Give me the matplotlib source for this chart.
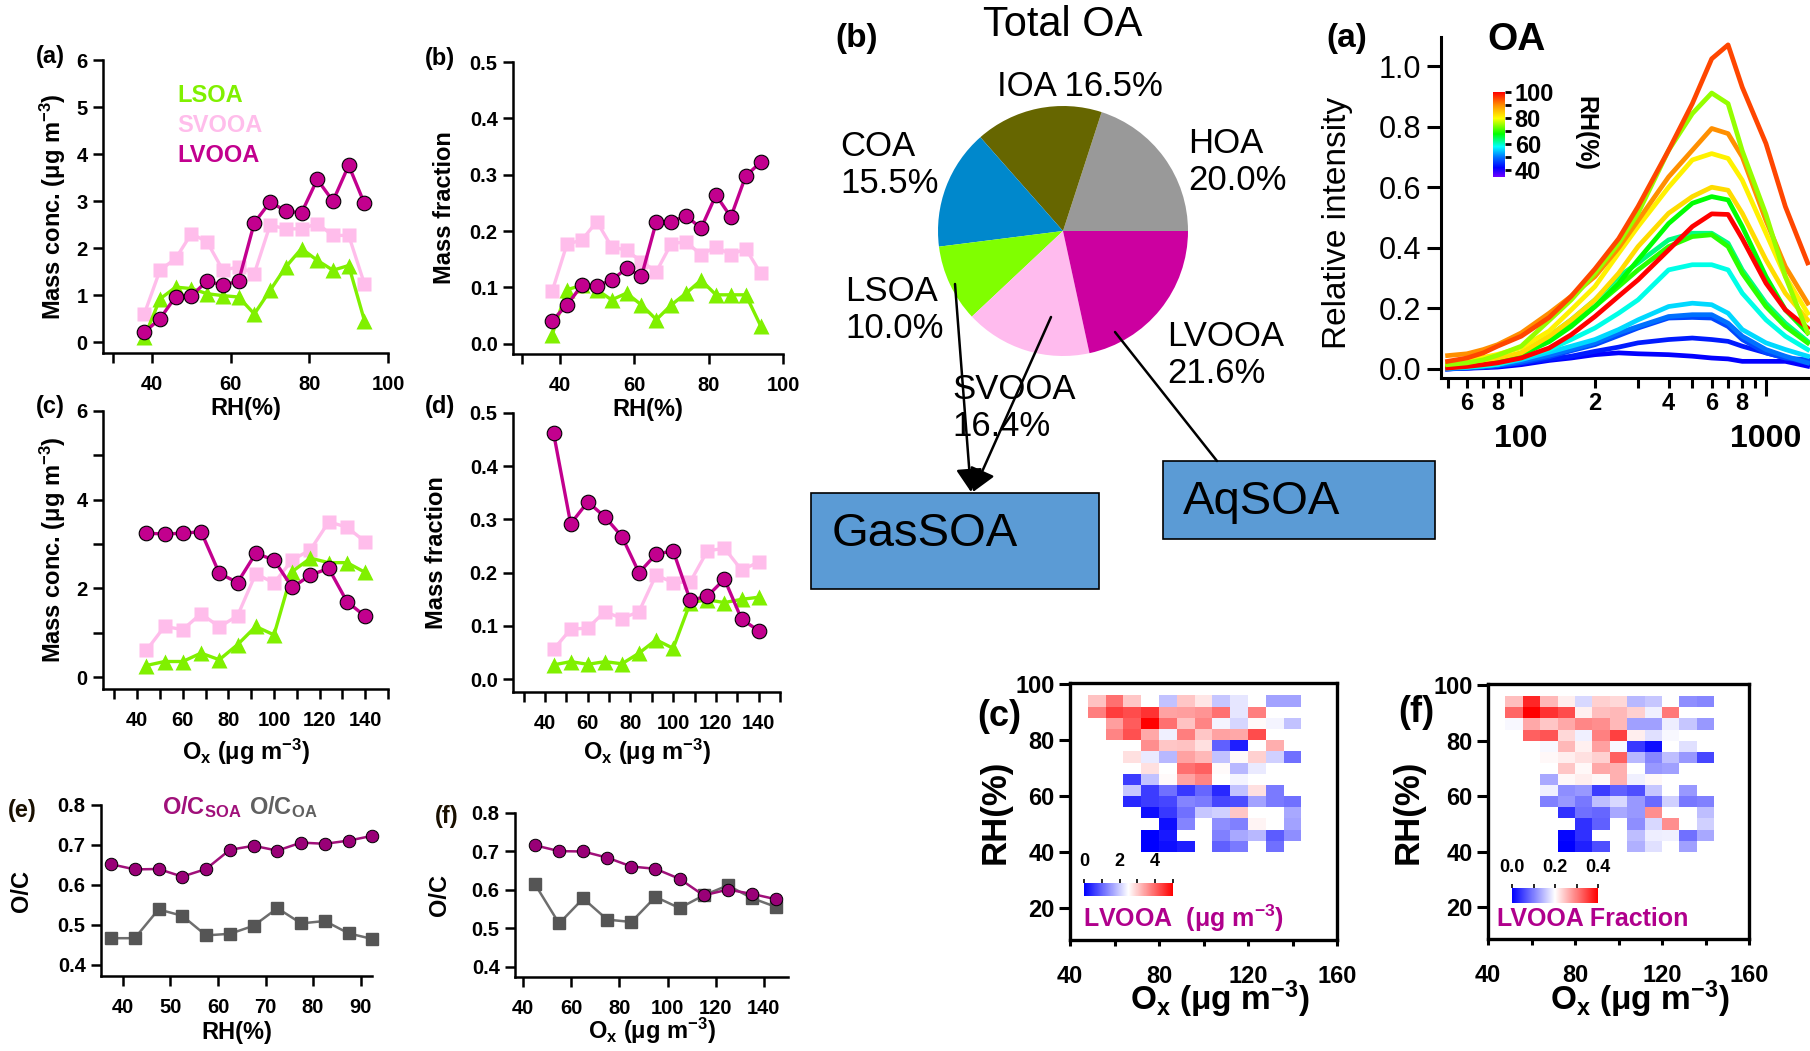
import numpy as np
import matplotlib
matplotlib.use("Agg")
import matplotlib.pyplot as plt
from matplotlib.colors import LinearSegmentedColormap, Normalize
from matplotlib.cm import ScalarMappable
from matplotlib.patches import FancyArrowPatch, Rectangle

nan = np.nan

# ---------------- data ----------------
rh_bins = [38, 42, 46, 50, 54, 58, 62, 66, 70, 74, 78, 82, 86, 90, 94]
lvooa_rh = [0.21, 0.50, 0.97, 0.99, 1.30, 1.21, 1.30, 2.54, 2.98, 2.79, 2.75, 3.46, 3.00, 3.76, 2.95]
svooa_rh = [0.60, 1.53, 1.78, 2.31, 2.13, 1.53, 1.60, 1.46, 2.49, 2.41, 2.41, 2.52, 2.27, 2.27, 1.24]
lsoa_rh = [0.10, 0.92, 1.17, 1.14, 1.03, 0.99, 0.96, 0.60, 1.10, 1.60, 1.99, 1.74, 1.53, 1.63, 0.46]

lvooa_frac_rh = [0.041, 0.069, 0.104, 0.103, 0.113, 0.134, 0.120, 0.217, 0.217, 0.227, 0.205, 0.264, 0.225, 0.298, 0.322]
svooa_frac_rh = [0.093, 0.177, 0.184, 0.217, 0.172, 0.166, 0.146, 0.128, 0.178, 0.181, 0.158, 0.172, 0.158, 0.169, 0.125]
lsoa_frac_rh = [0.016, 0.096, 0.104, 0.096, 0.078, 0.090, 0.069, 0.043, 0.069, 0.090, 0.113, 0.087, 0.087, 0.087, 0.032]

ox_bins = [44, 52, 60, 68, 76, 84, 92, 100, 108, 116, 124, 132, 140]
lvooa_ox = [3.24, 3.23, 3.24, 3.28, 2.34, 2.13, 2.79, 2.64, 2.02, 2.30, 2.45, 1.70, 1.37]
svooa_ox = [0.60, 1.14, 1.07, 1.43, 1.13, 1.38, 2.33, 2.12, 2.64, 2.87, 3.50, 3.38, 3.05]
lsoa_ox = [0.26, 0.35, 0.35, 0.54, 0.39, 0.73, 1.14, 0.95, 2.38, 2.68, 2.58, 2.58, 2.36]

lvooa_frac_ox = [0.462, 0.292, 0.333, 0.305, 0.268, 0.200, 0.235, 0.241, 0.148, 0.156, 0.188, 0.113, 0.091]
svooa_frac_ox = [0.056, 0.094, 0.096, 0.127, 0.114, 0.127, 0.196, 0.181, 0.183, 0.241, 0.246, 0.205, 0.220]
lsoa_frac_ox = [0.027, 0.033, 0.028, 0.033, 0.029, 0.049, 0.074, 0.058, 0.144, 0.149, 0.144, 0.150, 0.154]

oc_rh_bins = [37.5, 42.5, 47.5, 52.5, 57.5, 62.5, 67.5, 72.5, 77.5, 82.5, 87.5, 92.5]
oc_soa_rh = [0.652, 0.639, 0.640, 0.621, 0.640, 0.688, 0.698, 0.686, 0.706, 0.703, 0.711, 0.723]
oc_oa_rh = [0.467, 0.467, 0.539, 0.523, 0.474, 0.478, 0.498, 0.542, 0.504, 0.510, 0.479, 0.465]

oc_ox_bins = [45, 55, 65, 75, 85, 95, 105, 115, 125, 135, 145]
oc_soa_ox = [0.716, 0.701, 0.700, 0.684, 0.661, 0.655, 0.629, 0.586, 0.601, 0.590, 0.576]
oc_oa_ox = [0.615, 0.513, 0.578, 0.523, 0.517, 0.582, 0.553, 0.586, 0.612, 0.579, 0.556]

pie_names = ["HOA", "IOA", "COA", "LSOA", "SVOOA", "LVOOA"]
pie_pct = [20.0, 16.5, 15.5, 10.0, 16.4, 21.6]
pie_colors = ["#999999", "#666600", "#0088CC", "#80FF00", "#FFBBEE", "#CC00A0"]

# particle size distributions (vacuum aerodynamic diameter, nm) for RH bins
dva = [50, 60, 70, 80, 100, 130, 160, 200, 250, 300, 400, 500, 600, 700, 800, 1000, 1200, 1480]
psd_rh = [42, 44, 47, 50, 56, 59, 63, 70, 68, 83, 81, 100, 90, 75, 95]
psd_curves = [
    [0.0, 0.002, 0.004, 0.006, 0.014, 0.028, 0.036, 0.047, 0.053, 0.050, 0.047, 0.042, 0.036, 0.033, 0.025, 0.025, 0.025, 0.009],
    [0.0, 0.003, 0.006, 0.010, 0.020, 0.032, 0.042, 0.058, 0.072, 0.086, 0.097, 0.102, 0.097, 0.091, 0.075, 0.053, 0.036, 0.020],
    [0.0, 0.003, 0.006, 0.010, 0.020, 0.040, 0.060, 0.080, 0.110, 0.135, 0.168, 0.170, 0.168, 0.140, 0.097, 0.053, 0.036, 0.030],
    [0.0, 0.004, 0.008, 0.012, 0.025, 0.045, 0.064, 0.086, 0.119, 0.140, 0.173, 0.179, 0.179, 0.151, 0.108, 0.064, 0.042, 0.020],
    [0.003, 0.006, 0.010, 0.015, 0.031, 0.055, 0.075, 0.097, 0.130, 0.162, 0.206, 0.217, 0.212, 0.184, 0.130, 0.086, 0.064, 0.042],
    [0.003, 0.006, 0.010, 0.015, 0.036, 0.064, 0.097, 0.135, 0.184, 0.228, 0.327, 0.344, 0.344, 0.327, 0.250, 0.162, 0.108, 0.064],
    [0.009, 0.014, 0.020, 0.030, 0.053, 0.108, 0.162, 0.228, 0.305, 0.350, 0.426, 0.448, 0.448, 0.415, 0.327, 0.217, 0.151, 0.091],
    [0.009, 0.012, 0.018, 0.025, 0.047, 0.095, 0.146, 0.206, 0.272, 0.327, 0.404, 0.437, 0.443, 0.404, 0.316, 0.206, 0.140, 0.086],
    [0.009, 0.014, 0.020, 0.028, 0.047, 0.090, 0.140, 0.206, 0.283, 0.360, 0.480, 0.547, 0.569, 0.558, 0.470, 0.305, 0.195, 0.119],
    [0.014, 0.020, 0.028, 0.036, 0.053, 0.108, 0.162, 0.228, 0.316, 0.404, 0.514, 0.569, 0.600, 0.590, 0.514, 0.360, 0.250, 0.162],
    [0.020, 0.028, 0.038, 0.048, 0.070, 0.125, 0.195, 0.272, 0.382, 0.470, 0.600, 0.690, 0.711, 0.695, 0.623, 0.448, 0.305, 0.184],
    [0.003, 0.008, 0.014, 0.020, 0.036, 0.069, 0.113, 0.173, 0.240, 0.294, 0.393, 0.470, 0.512, 0.510, 0.430, 0.283, 0.195, 0.135],
    [0.044, 0.050, 0.064, 0.080, 0.119, 0.184, 0.240, 0.305, 0.400, 0.490, 0.634, 0.722, 0.794, 0.777, 0.700, 0.490, 0.338, 0.217],
    [0.014, 0.020, 0.030, 0.045, 0.075, 0.160, 0.228, 0.316, 0.415, 0.514, 0.722, 0.843, 0.911, 0.876, 0.720, 0.510, 0.305, 0.120],
    [0.025, 0.036, 0.053, 0.075, 0.108, 0.170, 0.240, 0.330, 0.430, 0.536, 0.722, 0.876, 1.024, 1.070, 0.930, 0.744, 0.536, 0.350],
]

# LVOOA over the Ox / RH grid
grid_ox = [52, 60, 68, 76, 84, 92, 100, 108, 116, 124, 132, 140]
grid_rh = [94, 90, 86, 82, 78, 74, 70, 66, 62, 58, 54, 50, 46, 42]
lvooa_conc_grid = [
    [3.10, 3.90, 3.05, nan, 1.90, 3.05, 2.75, 1.95, 2.25, nan, 1.60, 1.60],
    [3.75, 4.40, 4.25, 4.50, 3.40, 3.45, 3.55, 3.90, 2.25, 3.75, nan, nan],
    [nan, 3.45, 4.10, 5.00, 3.90, 3.10, 3.70, 2.40, 2.10, 2.55, 2.40, 1.90],
    [nan, 3.70, 4.20, 3.35, 2.35, 3.75, 3.05, 3.40, 3.35, 4.25, nan, nan],
    [nan, nan, nan, 3.60, 3.05, 3.10, 2.80, 0.95, 0.30, nan, 3.30, nan],
    [nan, nan, 2.80, 2.30, 1.80, 3.40, 3.20, 1.90, 2.55, 2.95, 2.05, 1.10],
    [nan, nan, nan, 2.80, nan, 3.90, 4.05, 2.55, 1.80, 2.30, nan, nan],
    [nan, nan, 0.60, 1.90, 2.55, 3.40, 3.70, nan, 2.40, nan, nan, nan],
    [nan, nan, 1.95, 0.60, 1.10, 0.55, 1.00, 0.40, 1.90, 2.80, 1.20, nan],
    [nan, nan, 0.40, 0.60, 0.70, 1.30, 1.20, 0.70, 0.75, 1.60, 1.20, 1.10],
    [nan, nan, nan, 0.15, 0.55, 1.10, 1.95, 2.05, 3.05, nan, nan, 1.65],
    [nan, nan, nan, nan, 0.15, 1.30, nan, 1.40, 1.25, 2.60, nan, 1.60],
    [nan, nan, nan, 0.00, 0.25, nan, nan, 1.25, 1.65, 1.80, 0.90, 1.40],
    [nan, nan, nan, 0.00, 0.15, 0.30, nan, 0.95, 1.20, nan, 1.10, nan],
]
lvooa_frac_grid = [
    [0.250, 0.370, 0.256, 0.214, 0.170, 0.236, 0.230, 0.144, 0.156, nan, 0.112, 0.106],
    [0.320, 0.400, 0.360, 0.340, 0.212, 0.250, 0.256, 0.236, 0.188, 0.306, nan, nan],
    [0.194, 0.268, 0.244, 0.268, 0.294, 0.288, 0.256, 0.126, 0.126, 0.186, 0.156, 0.120],
    [nan, 0.324, 0.334, 0.230, 0.188, 0.300, 0.350, 0.214, 0.176, 0.194, nan, nan],
    [nan, nan, 0.194, 0.256, 0.212, 0.274, 0.194, 0.044, 0.012, nan, 0.176, nan],
    [nan, nan, 0.206, 0.214, 0.224, 0.236, 0.324, 0.144, 0.106, 0.150, 0.120, 0.056],
    [nan, nan, nan, 0.244, 0.206, 0.268, 0.262, nan, 0.120, 0.126, nan, nan],
    [nan, nan, 0.132, 0.206, 0.214, 0.206, 0.262, 0.188, 0.206, nan, nan, nan],
    [nan, nan, 0.188, 0.112, 0.120, 0.048, 0.076, 0.062, 0.156, nan, 0.120, nan],
    [nan, nan, 0.100, 0.120, 0.094, 0.150, 0.170, 0.120, 0.084, 0.164, 0.094, 0.100],
    [nan, nan, nan, 0.038, 0.088, 0.080, 0.132, 0.120, 0.288, nan, nan, 0.150],
    [nan, nan, nan, nan, 0.038, 0.076, nan, 0.112, 0.170, 0.288, nan, 0.164],
    [nan, nan, nan, 0.006, 0.038, nan, nan, 0.150, 0.186, 0.188, 0.088, 0.132],
    [nan, nan, nan, 0.000, 0.026, 0.062, nan, 0.138, 0.176, nan, 0.126, nan],
]

# ---------------- style ----------------
plt.rcParams.update({
    "font.family": ["Liberation Sans", "DejaVu Sans"],
    "font.weight": "bold",
    "axes.labelweight": "bold",
    "mathtext.fontset": "custom",
    "mathtext.rm": "Liberation Sans:bold",
    "mathtext.it": "Liberation Sans:bold",
    "mathtext.bf": "Liberation Sans:bold",
    "mathtext.sf": "Liberation Sans:bold",
    "mathtext.default": "rm",
})

W, H = 1810, 1051
fig = plt.figure(figsize=(W / 100, H / 100), dpi=100, facecolor="white")


def add_ax(l, t, r, b):
    return fig.add_axes([l / W, 1 - b / H, (r - l) / W, (b - t) / H])


def ftext(x, y, s, **kw):
    return fig.text(x / W, 1 - y / H, s, **kw)


def fxy(x, y):
    return (x / W, 1 - y / H)


C_LV = "#C2008E"
C_SV = "#FFBDEB"
C_LS = "#80F000"
C_SOA = "#990077"
C_OA = "#555555"

lv_style = dict(color=C_LV, marker="o", ms=10.5, mfc=C_LV, mec="black", mew=0.8, lw=2.4, clip_on=False, zorder=4)
sv_style = dict(color=C_SV, marker="s", ms=10.5, mec="none", lw=2.4, clip_on=False, zorder=2)
ls_style = dict(color=C_LS, marker="^", ms=11, mec="none", lw=2.4, clip_on=False, zorder=3)

OX_LABEL = "O$_{x}$ (μg m$^{-3}$)"


def line_axes(rect, xlim, ylim):
    ax = add_ax(*rect)
    ax.set_xlim(*xlim)
    ax.set_ylim(*ylim)
    ax.patch.set_alpha(0)
    for s in ("top", "right"):
        ax.spines[s].set_visible(False)
    for s in ("left", "bottom"):
        ax.spines[s].set_linewidth(1.8)
    ax.tick_params(which="both", direction="out", length=7, width=1.8, labelsize=14.5)
    ax.tick_params(axis="y", which="both", pad=4)
    ax.tick_params(axis="x", which="both", pad=9)
    return ax


def place_labels(ax, rect, xlabel, xtop, ylabel, yright, fs=17, ycen=0.5):
    l, t, r, b = rect
    ax.set_xlabel(xlabel, fontsize=fs)
    ax.set_ylabel(ylabel, fontsize=fs)
    ax.xaxis.set_label_coords(0.5, (b - xtop) / (b - t))
    ax.yaxis.set_label_coords((yright - l) / (r - l), ycen)


# ---- (a) mass concentration vs RH ----
ra = (103, 60, 388, 353)
ax = line_axes(ra, (27.5, 100), (-0.23, 6))
ax.plot(rh_bins, svooa_rh, **sv_style)
ax.plot(rh_bins, lsoa_rh, **ls_style)
ax.plot(rh_bins, lvooa_rh, **lv_style)
ax.set_xticks([40, 60, 80, 100])
ax.set_xticks([30], minor=True)
ax.set_yticks(range(0, 7))
place_labels(ax, ra, "RH(%)", 397, "Mass conc. (μg m$^{-3}$)", 68)
ftext(177, 95, "LSOA", color=C_LS, fontsize=17, va="center")
ftext(177, 125, "SVOOA", color=C_SV, fontsize=17, va="center")
ftext(177, 155, "LVOOA", color=C_LV, fontsize=17, va="center")
ftext(50, 57, "(a)", fontsize=17, ha="center", va="center")

# ---- (b) mass fraction vs RH ----
rb = (513, 62, 783, 354)
ax = line_axes(rb, (27.5, 100), (-0.018, 0.5))
ax.plot(rh_bins, svooa_frac_rh, **sv_style)
ax.plot(rh_bins, lsoa_frac_rh, **ls_style)
ax.plot(rh_bins, lvooa_frac_rh, **lv_style)
ax.set_xticks([40, 60, 80, 100])
ax.set_xticks([30], minor=True)
ax.set_yticks(np.round(np.arange(0, 0.51, 0.1), 1))
place_labels(ax, rb, "RH(%)", 398, "Mass fraction", 456)
ftext(440, 58, "(b)", fontsize=17, ha="center", va="center")

# ---- (c) mass concentration vs Ox ----
rc = (103, 411, 388, 689)
ax = line_axes(rc, (25, 150), (-0.27, 6))
ax.plot(ox_bins, svooa_ox, **sv_style)
ax.plot(ox_bins, lsoa_ox, **ls_style)
ax.plot(ox_bins, lvooa_ox, **lv_style)
ax.set_xticks(range(40, 141, 20))
ax.set_xticks(range(30, 151, 20), minor=True)
ax.set_yticks([0, 2, 4, 6])
ax.set_yticks([1, 3, 5], minor=True)
place_labels(ax, rc, OX_LABEL, 737, "Mass conc. (μg m$^{-3}$)", 68)
ftext(50, 406, "(c)", fontsize=17, ha="center", va="center")

# ---- (d) mass fraction vs Ox ----
rd = (513, 413, 780, 692)
ax = line_axes(rd, (25, 150), (-0.024, 0.5))
ax.plot(ox_bins, svooa_frac_ox, **sv_style)
ax.plot(ox_bins, lsoa_frac_ox, **ls_style)
ax.plot(ox_bins, lvooa_frac_ox, **lv_style)
ax.set_xticks(range(40, 141, 20))
ax.set_xticks(range(30, 151, 20), minor=True)
ax.set_yticks(np.round(np.arange(0, 0.51, 0.1), 1))
place_labels(ax, rd, OX_LABEL, 737, "Mass fraction", 448)
ftext(440, 407, "(d)", fontsize=17, ha="center", va="center")

# ---- (e) O/C vs RH ----
oa_style = dict(color="#6E6E6E", marker="s", ms=8.5, mfc=C_OA, mec=C_OA, lw=1.8, clip_on=False, zorder=2)
soa_style = dict(color="#A0107A", marker="o", ms=9, mfc=C_SOA, mec="black", mew=0.7, lw=1.8, clip_on=False, zorder=3)
re_ = (101, 805, 372, 976)
ax = line_axes(re_, (35.4, 92.4), (0.3725, 0.8))
ax.plot(oc_rh_bins, oc_oa_rh, **oa_style)
ax.plot(oc_rh_bins, oc_soa_rh, **soa_style)
ax.set_xticks(range(40, 91, 10))
ax.set_yticks([0.4, 0.5, 0.6, 0.7, 0.8])
place_labels(ax, re_, "RH(%)", 1021, "O/C", 33)
ftext(162, 807, "O/C$_{SOA}$", color="#A0107A", fontsize=17, va="center")
ftext(249, 807, "O/C$_{OA}$", color="#606060", fontsize=17, va="center")
ftext(22, 810, "(e)", fontsize=17, ha="center", va="center", color="#1A1000")

# ---- (f) O/C vs Ox ----
rf = (515, 813, 788, 977)
ax = line_axes(rf, (36.7, 150), (0.374, 0.8))
ax.plot(oc_ox_bins, oc_oa_ox, **oa_style)
ax.plot(oc_ox_bins, oc_soa_ox, **soa_style)
ax.set_xticks(range(40, 141, 20))
ax.set_yticks([0.4, 0.5, 0.6, 0.7, 0.8])
place_labels(ax, rf, OX_LABEL, 1016, "O/C", 451)
ftext(447, 817, "(f)", fontsize=17, ha="center", va="center", color="#1A1000")

# ---------------- pie: Total OA ----------------
axp = add_ax(938, 106, 1188, 356)
axp.pie(pie_pct, colors=pie_colors, startangle=0, counterclock=True,
        wedgeprops=dict(linewidth=0))
axp.set_aspect("auto")
axp.set_xlim(-1, 1)
axp.set_ylim(-1, 1)
axp.axis("off")

pie_label = {n: f"{n}\n{v:.1f}%" for n, v in zip(pie_names, pie_pct)}
pk = dict(fontsize=25, fontweight="normal", va="center", ha="left", linespacing=1.13)
ftext(1063, 25, "Total OA", fontsize=30, fontweight="normal", ha="center", va="center")
ftext(857, 39, "(b)", fontsize=24, ha="center", va="center")
ftext(997, 87, pie_label["IOA"].replace("\n", " "), **pk)
ftext(840, 165, pie_label["COA"], **pk)
ftext(1188, 162, pie_label["HOA"], **pk)
ftext(845, 310, pie_label["LSOA"], **pk)
ftext(1167, 355, pie_label["LVOOA"], **pk)
ftext(952, 408, pie_label["SVOOA"], **pk)

for (x, y, x2, y2) in [(811, 493, 1099, 589), (1163, 461, 1435, 539)]:
    fig.add_artist(Rectangle(fxy(x, y2), (x2 - x) / W, (y2 - y) / H, transform=fig.transFigure,
                             facecolor="#5B9BD5", edgecolor="black", linewidth=1.2, zorder=5))
ftext(832, 534, "GasSOA", fontsize=34, fontweight="normal", va="center", zorder=6)
ftext(1183, 502, "AqSOA", fontsize=34, fontweight="normal", va="center", zorder=6)

arrow_kw = dict(transform=fig.transFigure, color="black", lw=1.8, shrinkA=0, shrinkB=0, zorder=7)
fig.add_artist(FancyArrowPatch(fxy(955, 284), fxy(971, 492),
                               arrowstyle="-|>,head_length=0.7,head_width=0.4", mutation_scale=20, **arrow_kw))
fig.add_artist(FancyArrowPatch(fxy(1051, 317), fxy(973, 492),
                               arrowstyle="-|>,head_length=0.7,head_width=0.4", mutation_scale=20, **arrow_kw))
fig.add_artist(FancyArrowPatch(fxy(1115, 332), fxy(1217, 461), arrowstyle="-", **arrow_kw))

# ---------------- size distributions ----------------
rh_cmap = LinearSegmentedColormap.from_list("rh", [
    (0.0, "#7000FF"), ((42 - 35) / 65, "#0000FF"), ((50 - 35) / 65, "#0070FF"),
    ((58 - 35) / 65, "#00FFFF"), ((68 - 35) / 65, "#00FF00"), ((80 - 35) / 65, "#FFFF00"),
    ((90 - 35) / 65, "#FF9000"), (1.0, "#FF0000")])
rh_norm = Normalize(35, 100)

rs = (1441, 37, 1810, 378)
axs = add_ax(*rs)
axs.patch.set_alpha(0)
for rh, vals in zip(psd_rh, psd_curves):
    axs.plot(dva, vals, color=rh_cmap(rh_norm(rh)), lw=3.4, solid_joinstyle="round")
axs.set_xscale("log")
axs.set_xlim(47, 1513)
axs.set_ylim(-0.03, 1.096)
for s in ("top", "right"):
    axs.spines[s].set_visible(False)
for s in ("left", "bottom"):
    axs.spines[s].set_linewidth(2.2)
axs.set_yticks([0, 0.2, 0.4, 0.6, 0.8, 1.0], ["0.0", "0.2", "0.4", "0.6", "0.8", "1.0"],
               fontsize=22, fontweight="normal")
axs.set_xticks([100, 1000], ["100", "1000"], fontsize=23, fontweight="bold")
minor_d = [50, 60, 70, 80, 90, 200, 300, 400, 500, 600, 700, 800, 900]
minor_l = ["", "6", "", "8", "", "2", "", "4", "", "6", "", "8", ""]
axs.set_xticks(minor_d, minor_l, minor=True, fontsize=17, fontweight="bold")
axs.tick_params(axis="y", direction="out", length=10, width=2.2, pad=4)
axs.tick_params(axis="x", which="major", direction="out", length=13, width=2.2, pad=20)
axs.tick_params(axis="x", which="minor", direction="out", length=7, width=2.2, pad=3)
axs.set_ylabel("Relative intensity", fontsize=24, fontweight="normal")
axs.yaxis.set_label_coords((1353 - 1441) / (1810 - 1441), 0.455)
ftext(1347, 38, "(a)", fontsize=24, ha="center", va="center")
ftext(1517, 40, "OA", fontsize=28, ha="center", va="center")

cax = add_ax(1493, 92, 1505, 177)
cb = fig.colorbar(ScalarMappable(rh_norm, rh_cmap), cax=cax)
cb.outline.set_visible(False)
cb.set_ticks([40, 60, 80, 100])
cax.set_yticks([50, 70, 90], minor=True)
cax.tick_params(which="both", length=4, width=2, labelsize=17, pad=3)
ftext(1585, 133, "RH(%)", fontsize=18, rotation=270, ha="center", va="center")

# ---------------- LVOOA maps ----------------
bwr = plt.get_cmap("bwr")


def heat_panel(rect, grid, norm, label_text, cbar_rect, cticks, cticklabels, cminor,
               text_x, text_y, tag, tag_xy, ylab_right, xlab_x):
    ax = add_ax(*rect)
    ax.pcolormesh(grid_ox, grid_rh, np.ma.masked_invalid(np.array(grid)), cmap=bwr,
                  norm=norm, shading="nearest")
    ax.set_xlim(40, 160)
    ax.set_ylim(8.6, 100.4)
    for s in ax.spines.values():
        s.set_linewidth(2.4)
    ax.set_xticks(range(40, 161, 20), ["40", "", "80", "", "120", "", "160"])
    ax.set_yticks([20, 40, 60, 80, 100])
    ax.tick_params(axis="x", direction="out", length=4, width=2.2, labelsize=17, pad=14)
    ax.tick_params(axis="y", direction="out", length=8, width=2.2, labelsize=17, pad=3)
    l, t, r, b = rect
    ax.set_xlabel(OX_LABEL, fontsize=24)
    ax.xaxis.set_label_coords(xlab_x, (b - 979) / (b - t))
    ax.set_ylabel("RH(%)", fontsize=25)
    ax.yaxis.set_label_coords((ylab_right - l) / (r - l), 0.5)

    cx = add_ax(*cbar_rect)
    c = fig.colorbar(ScalarMappable(norm, bwr), cax=cx, orientation="horizontal")
    c.outline.set_visible(False)
    cx.xaxis.set_ticks_position("top")
    cx.set_xticks(cticks, cticklabels)
    cx.set_xticks(cminor, minor=True)
    cx.tick_params(which="both", length=3, width=1.2, labelsize=13, pad=6)
    ftext(text_x, text_y, label_text, color="#B0008C", fontsize=18, va="center")
    ftext(tag_xy[0], tag_xy[1], tag, fontsize=26, ha="center", va="center")


heat_panel((1070, 683, 1337, 940), lvooa_conc_grid, Normalize(0, 5), "LVOOA  (μg m$^{-3}$)",
           (1084, 883, 1173, 896), [0, 2, 4], ["0", "2", "4"], [1, 3, 5],
           1083, 918, "(c)", (999, 717), 1012, 0.56)
heat_panel((1488, 684, 1749, 939), lvooa_frac_grid, Normalize(0, 0.4), "LVOOA Fraction",
           (1512, 888, 1598, 903), [0, 0.2, 0.4], ["0.0", "0.2", "0.4"], [0.1, 0.3],
           1497, 919, "(f)", (1416, 712), 1425, 0.58)

fig.savefig("out.png", dpi=100, facecolor="white")
